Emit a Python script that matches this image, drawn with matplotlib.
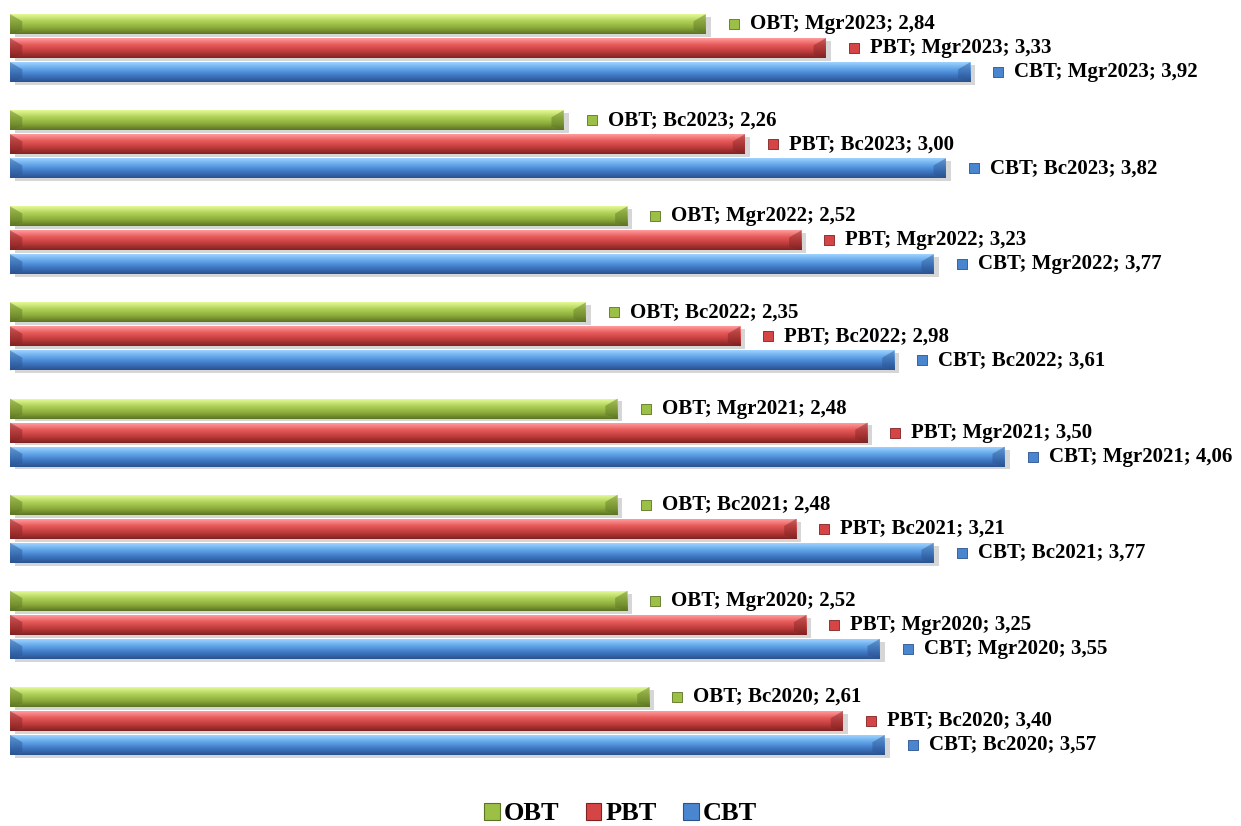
import matplotlib
matplotlib.use("Agg")
import matplotlib.pyplot as plt
import matplotlib.transforms as mtransforms
from matplotlib.patches import Rectangle, Polygon
from matplotlib.colors import to_rgb
import numpy as np

# wyniki grup (od dołu do góry)
groups = ["Bc2020", "Mgr2020", "Bc2021", "Mgr2021", "Bc2022", "Mgr2022", "Bc2023", "Mgr2023"]
cbt = [3.57, 3.55, 3.77, 4.06, 3.61, 3.77, 3.82, 3.92]
pbt = [3.40, 3.25, 3.21, 3.50, 2.98, 3.23, 3.00, 3.33]
obt = [2.61, 2.52, 2.48, 2.48, 2.35, 2.52, 2.26, 2.84]

series = [
    ("CBT", cbt, 0, ["#9fd2ff", "#62a6ea", "#3f78c4", "#2a528f"], "#4a86d0"),
    ("PBT", pbt, 1, ["#ff9c9c", "#e85a5a", "#bf3c3c", "#7f2222"], "#d64545"),
    ("OBT", obt, 2, ["#e4fa98", "#b2d35a", "#8eae3c", "#5c7424"], "#9cc046"),
]

W, H = 1241, 826
fig = plt.figure(figsize=(W / 100, H / 100), dpi=100)
ax = fig.add_axes([10 / W, (H - 769) / H, 1 - 10 / W, 769 / H])
ax.axis("off")

bar_h = 0.83
font = dict(family="Liberation Serif", weight="bold")


def gradient(stops, n=64):
    pos = np.linspace(0, 1, len(stops))
    cols = np.array([to_rgb(c) for c in stops])
    t = np.linspace(0, 1, n)
    return np.stack([np.interp(t, pos, cols[:, k]) for k in range(3)], axis=-1)[:, None, :]


mark_tr = mtransforms.offset_copy(ax.transData, fig=fig, x=28, y=0, units="dots")

for name, vals, off, stops, base in series:
    img = gradient(stops)
    for g, (grp, v) in enumerate(zip(groups, vals)):
        y = 4 * g + off
        y0, y1 = y - bar_h / 2, y + bar_h / 2
        # cień pod słupkiem
        ax.add_patch(Rectangle((0.02, y0 - 0.12), v, bar_h, color="#000000",
                               alpha=0.16, lw=0, zorder=1))
        ax.imshow(img, extent=[0, v, y0, y1], aspect="auto", origin="upper",
                  interpolation="bilinear", zorder=2)
        # ścięte końce
        d = 0.05
        ax.add_patch(Polygon([[0, y1], [d, y1 - 0.3], [d, y0 + 0.15], [0, y0]],
                             closed=True, color=stops[-1], alpha=0.45, lw=0, zorder=3))
        ax.add_patch(Polygon([[v, y1], [v - d, y1 - 0.3], [v - d, y0 + 0.15], [v, y0]],
                             closed=True, color=stops[-1], alpha=0.45, lw=0, zorder=3))
        ax.scatter([v], [y], marker="s", s=50, color=base, edgecolor=stops[-1],
                   lw=0.6, transform=mark_tr, zorder=4)
        label = f"{name}; {grp}; {v:.2f}".replace(".", ",")
        ax.annotate(label, xy=(v, y), xytext=(44, 0), textcoords="offset pixels",
                    ha="left", va="center", fontsize=15, zorder=4, **font)

ax.set_ylim(-1, 31)
ax.set_xlim(0, (W - 10) / 245)

handles = [Rectangle((0, 0), 1, 1, facecolor=s[4], edgecolor=s[3][-1], lw=0.8)
           for s in series[::-1]]
fig.legend(handles, [s[0] for s in series[::-1]], loc="center",
           bbox_to_anchor=(0.5, (H - 814) / H), ncol=3, frameon=False,
           handlelength=0.6, handleheight=0.6, handletextpad=0.15,
           columnspacing=1.0, prop=dict(family="Liberation Serif", weight="bold", size=19))

fig.savefig("out.png", dpi=100)
